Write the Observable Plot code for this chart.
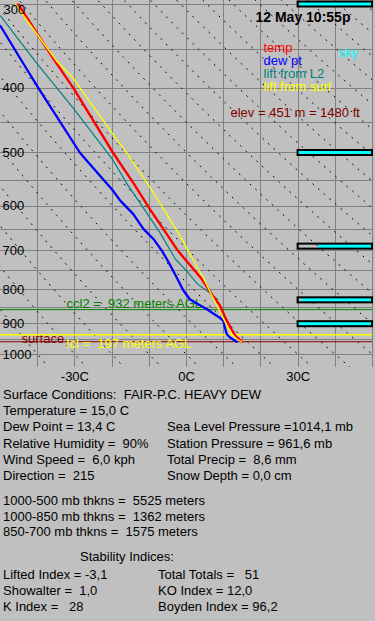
<!DOCTYPE html>
<html>
<head>
<meta charset="utf-8">
<script src="https://cdn.jsdelivr.net/npm/d3@7"></script>
<script src="https://cdn.jsdelivr.net/npm/@observablehq/plot@0.6"></script>
<style>
  html, body { margin: 0; padding: 0; }
  body { width: 375px; height: 621px; overflow: hidden; position: relative; background: #c0c0c0;
         font-family: "Liberation Sans", Arial, sans-serif; font-size: 13px; color: #000; }
  #chart { position: absolute; left: 0; top: 0; }
  .t { position: absolute; white-space: pre; line-height: 16px; height: 16px; }
</style>
</head>
<body>
<div id="chart"></div>
<div id="info"></div>
<script>
// ---- data ----
const tempP = [300, 362, 400, 500, 554, 607, 661, 700, 770, 819, 845, 880, 915, 940, 957];
const tempT = [-45.2, -35.7, -30.4, -19.7, -14.3, -9.8, -5.3, -2.3, 4.0, 7.2, 9.0, 10.4, 12.0, 13.3, 14.9];

const dewP = [323, 365, 400, 500, 541, 567, 589, 617, 649, 672, 700, 720, 737, 768, 803, 827, 836, 855, 875, 890, 911, 932, 943, 957];
const dewT = [-50, -44.2, -39.8, -28.6, -23.2, -20.0, -17.8, -14.3, -11.6, -8.9, -6.6, -5.3, -4.3, -2.6, -0.8, 0.9, 2.3, 5.4, 8.1, 9.9, 10.3, 10.8, 11.7, 13.5];

const liftL2P = [312, 365, 429, 513, 556, 604, 658, 720, 750, 785, 811, 827];
const liftL2T = [-50, -40.6, -30.4, -19.7, -16.0, -11.6, -7.1, -3.0, 0.0, 3.0, 6.5, 8.3];

const liftSfcP = [300, 365, 387, 467, 496, 563, 617, 677, 708, 768, 824, 863, 904, 932, 948, 957];
const liftSfcT = [-46.0, -34.8, -30.4, -20.0, -16.5, -9.8, -5.3, -0.9, 0.9, 4.5, 7.2, 9.0, 10.8, 12.1, 13.5, 14.8];

const skyP = [300, 500, 690, 830, 901];
const skyCover = [0.97, 1, 0.72, 0.95, 1];

const gridT = [-40, -30, -20, -10, 0, 10, 20, 30, 40, 50];
const gridP = [300, 350, 400, 450, 500, 550, 600, 650, 700, 750, 800, 850, 900, 950, 1000, 1050];
const pressureLabels = [400, 500, 600, 700, 800, 900, 1000];
const topPressureLabel = [300];
const tempLabels = [-30, 0, 30];
const adiabatThetaC = [-40, -30, -20, -10, 0, 10, 20, 30, 40, 50, 60, 70, 80, 90, 100, 110, 120, 130, 140, 150, 160, 170, 180];

const cclP = 857, lclP = 934, surfaceP = 957;
const cclText = "ccl2 =  932 meters AGL";
const lclText = "lcl =  197 meters AGL";
const surfaceText = "surface";
const titleText = "12 May 10:55p";
const elevText = "elev = 451 m = 1480 ft";
const legendLabels = ["temp", "dew pt", "lift from L2", "lift from surf"];
const legendColors = ["#ff0000", "#0000ff", "#008080", "#ffff00"];
const skyLabel = "sky";

const surfaceLeft = ["Surface Conditions:  FAIR-P.C. HEAVY DEW", "Temperature = 15,0 C", "Dew Point = 13,4 C", "Relative Humidity =  90%", "Wind Speed =  6,0 kph", "Direction =  215"];
const surfaceRight = ["Sea Level Pressure =1014,1 mb", "Station Pressure = 961,6 mb", "Total Precip =  8,6 mm", "Snow Depth = 0,0 cm"];
const thicknessLines = ["1000-500 mb thkns =  5525 meters", "1000-850 mb thkns =  1362 meters", "850-700 mb thkns =  1575 meters"];
const stabilityTitle = "Stability Indices:";
const stabilityLeft = ["Lifted Index = -3,1", "Showalter =  1,0", "K Index =   28"];
const stabilityRight = ["Total Totals =   51", "KO Index = 12,0", "Boyden Index = 96,2"];

// ---- tables ----
const zip = (P, T) => P.map((p, i) => ({p, t: T[i]}));
const temp = zip(tempP, tempT);
const dew = zip(dewP, dewT);
const liftL2 = zip(liftL2P, liftL2T);
const liftSfc = zip(liftSfcP, liftSfcT);
const sky = skyP.map((p, i) => ({p, cover: skyCover[i]}));
// dry adiabats (Poisson relation) as chart background reference lines
const adiabats = [];
for (const th of adiabatThetaC) {
  for (let p = 280; p <= 1100; p += 10) {
    adiabats.push({theta: th, p, t: (th + 273.15) * Math.pow(p / 1000, 0.2857) - 273.15});
  }
}

const font = "'Liberation Sans', Arial, sans-serif";
const annot = (txt, dx, dy, fill, extra = {}) =>
  Plot.text([txt], {text: d => d, frameAnchor: "top-left", textAnchor: "start", lineAnchor: "middle",
                    dx, dy, fill, fontSize: 13, ...extra});

const chart = Plot.plot({
  width: 375, height: 385,
  marginTop: 0, marginLeft: 0, marginRight: 3, marginBottom: 18,
  style: {background: "transparent", fontFamily: font, fontSize: "13px", overflow: "visible"},
  x: {domain: [-50, 50], axis: null},
  y: {type: "log", domain: [300, 1000], range: [4, 354], axis: null},
  marks: [
    Plot.ruleX(gridT, {stroke: "#808080", strokeWidth: 1, shapeRendering: "crispEdges"}),
    Plot.ruleY(gridP, {stroke: "#808080", strokeWidth: 1, shapeRendering: "crispEdges", clip: true}),
    Plot.line(adiabats, {x: "t", y: "p", z: "theta", stroke: "#000", strokeWidth: 1, strokeDasharray: "1,6.5", clip: true}),
    // sky bars
    Plot.rect(sky, {x1: d => 50 - 20 * d.cover, x2: 50, y1: "p", y2: "p", fill: "#00ffff", insetTop: -2.5, insetBottom: -2.5}),
    Plot.rect(sky, {x1: 30, x2: 50, y1: "p", y2: "p", fill: "none", stroke: "#000", strokeWidth: 2, insetTop: -2.5, insetBottom: -2.5}),
    // level lines
    Plot.ruleY([cclP], {stroke: "#008000", strokeWidth: 1}),
    Plot.ruleY([surfaceP], {stroke: "#800000", strokeWidth: 1}),
    Plot.text([surfaceText], {text: d => d, y: surfaceP, frameAnchor: "left", textAnchor: "start", lineAnchor: "middle", dx: 21, dy: -3, fill: "#800000", fontSize: 13}),
    Plot.ruleY([lclP], {stroke: "#ffff00", strokeWidth: 1.5}),
    Plot.text([cclText], {text: d => d, y: cclP, frameAnchor: "left", textAnchor: "start", lineAnchor: "middle", dx: 66, dy: -6, fill: "#008000", fontSize: 13}),
    Plot.text([lclText], {text: d => d, y: lclP, frameAnchor: "left", textAnchor: "start", lineAnchor: "middle", dx: 66, dy: 9, fill: "#ffff00", fontSize: 13}),
    // profiles
    Plot.line(dew, {x: "t", y: "p", stroke: "#0000ff", strokeWidth: 2.3, clip: true}),
    Plot.line(liftL2, {x: "t", y: "p", stroke: "#008080", strokeWidth: 1.2, clip: true}),
    Plot.line(temp, {x: "t", y: "p", stroke: "#ff0000", strokeWidth: 2.4, clip: true}),
    Plot.line(liftSfc, {x: "t", y: "p", stroke: "#ffff00", strokeWidth: 1.3, clip: true}),
    // axis labels
    Plot.text(pressureLabels, {x: -50, y: d => d, text: d => String(d), textAnchor: "start", lineAnchor: "middle", dx: 2, fontSize: 13, fill: "#000"}),
    Plot.text(topPressureLabel, {x: -50, y: d => d, text: d => String(d), textAnchor: "start", lineAnchor: "middle", dx: 3, dy: 5, fontSize: 13, fill: "#000"}),
    Plot.text(tempLabels, {x: d => d, text: d => d + "C", frameAnchor: "bottom", lineAnchor: "middle", dy: 9, fontSize: 13, fill: "#000"}),
    // annotations
    annot(titleText, 255, 17.5, "#000", {fontSize: 14, fontWeight: "bold"}),
    ...legendLabels.map((l, i) => annot(l, 263, 47 + 13.1 * i, legendColors[i])),
    annot(skyLabel, 338, 52, "#00ffff"),
    annot(elevText, 230, 112, "#800000")
  ]
});
document.getElementById("chart").appendChild(chart);

// ---- text block below the chart ----
const info = document.getElementById("info");
function put(txt, x, cy) {
  const d = document.createElement("div");
  d.className = "t";
  d.textContent = txt;
  d.style.left = x + "px";
  d.style.top = (cy - 8) + "px";
  info.appendChild(d);
}
surfaceLeft.forEach((s, i) => put(s, 3, 395 + 16.2 * i));
surfaceRight.forEach((s, i) => put(s, 167, 395 + 16.2 * (i + 2)));
thicknessLines.forEach((s, i) => put(s, 3, 501 + 15.7 * i));
put(stabilityTitle, 80, 556.7);
stabilityLeft.forEach((s, i) => put(s, 3, 575 + 16 * i));
stabilityRight.forEach((s, i) => put(s, 158, 575 + 16 * i));
</script>
</body>
</html>
